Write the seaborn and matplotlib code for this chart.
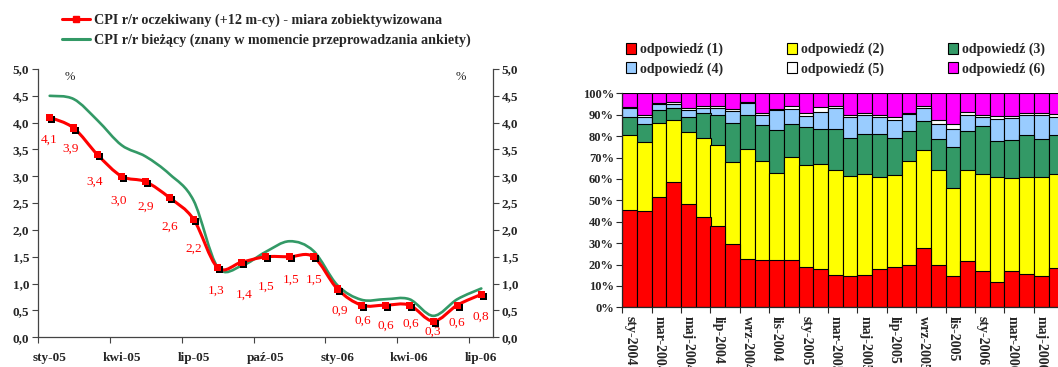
import numpy as np
import pandas as pd
import matplotlib
matplotlib.use("Agg")
import matplotlib.pyplot as plt
import seaborn as sns
from matplotlib.path import Path
from matplotlib.patches import PathPatch, Patch
from matplotlib.lines import Line2D
import matplotlib.patheffects as pe
from matplotlib.ticker import FixedLocator, NullFormatter, FuncFormatter

# ---------------- data: left chart ----------------
months_left = ["sty-05", "lut-05", "mar-05", "kwi-05", "maj-05", "cze-05", "lip-05",
               "sie-05", "wrz-05", "paź-05", "lis-05", "gru-05", "sty-06", "lut-06",
               "mar-06", "kwi-06", "maj-06", "cze-06", "lip-06"]
cpi_expected = [4.1, 3.9, 3.4, 3.0, 2.9, 2.6, 2.2, 1.3, 1.4, 1.5, 1.5, 1.5,
                0.9, 0.6, 0.6, 0.6, 0.3, 0.6, 0.8]
cpi_current = [4.50, 4.44, 4.04, 3.58, 3.37, 3.04, 2.55, 1.31, 1.33, 1.59, 1.79, 1.61,
               0.97, 0.70, 0.71, 0.71, 0.40, 0.71, 0.91]
left_tick_labels = ["sty-05", "kwi-05", "lip-05", "paź-05", "sty-06", "kwi-06", "lip-06"]
legend_left = ["CPI r/r oczekiwany (+12 m-cy) - miara zobiektywizowana",
               "CPI r/r bieżący (znany w momencie przeprowadzania ankiety)"]

# ---------------- data: right chart ----------------
months_right = ["sty-2004", "lut-2004", "mar-2004", "kwi-2004", "maj-2004", "cze-2004",
                "lip-2004", "sie-2004", "wrz-2004", "paź-2004", "lis-2004", "gru-2004",
                "sty-2005", "lut-2005", "mar-2005", "kwi-2005", "maj-2005", "cze-2005",
                "lip-2005", "sie-2005", "wrz-2005", "paź-2005", "lis-2005", "gru-2005",
                "sty-2006", "lut-2006", "mar-2006", "kwi-2006", "maj-2006", "cze-2006"]
resp1 = [45.3, 44.9, 51.4, 58.4, 48.4, 42.1, 37.9, 29.4, 22.6, 22.1, 22.1, 22.1, 18.8, 17.8, 15.0,
         14.6, 15.0, 17.8, 18.7, 19.6, 27.6, 19.6, 14.6, 21.5, 16.8, 11.7, 16.8, 15.4, 14.6, 18.2]
resp2 = [35.4, 32.4, 34.9, 29.1, 33.4, 37.0, 37.8, 38.4, 51.4, 46.4, 40.7, 48.0, 47.6, 49.2, 49.0,
         46.8, 47.5, 42.9, 43.0, 48.6, 45.8, 44.7, 41.3, 42.5, 45.7, 49.0, 43.6, 45.3, 46.1, 43.9]
resp3 = [8.2, 8.2, 5.8, 5.8, 7.0, 11.9, 14.2, 18.3, 15.7, 16.5, 20.1, 15.6, 17.7, 16.3, 19.3,
         17.6, 18.3, 20.1, 17.6, 14.4, 13.7, 14.4, 19.0, 18.6, 22.1, 16.9, 17.6, 19.7, 18.0, 18.3]
resp4 = [4.1, 3.6, 2.8, 1.7, 3.3, 2.3, 3.1, 5.6, 5.6, 4.7, 9.3, 6.8, 5.5, 8.1, 9.7,
         10.1, 9.1, 8.3, 8.2, 7.6, 6.2, 7.0, 8.3, 7.1, 4.5, 10.6, 10.6, 9.5, 11.2, 8.7]
resp5 = [0.6, 0.8, 0.7, 1.1, 1.2, 0.6, 0.9, 1.1, 0.5, 1.3, 0.6, 1.7, 1.2, 2.2, 0.9,
         0.9, 0.9, 0.8, 1.3, 0.6, 0.6, 2.0, 2.3, 1.7, 0.8, 1.1, 1.0, 0.9, 1.0, 1.1]
resp6 = [6.4, 10.1, 4.4, 3.9, 6.7, 6.1, 6.1, 7.2, 4.2, 9.0, 7.2, 5.8, 9.2, 6.4, 6.1,
         10.0, 9.2, 10.1, 11.2, 9.2, 6.1, 12.3, 14.5, 8.6, 10.1, 10.7, 10.4, 9.2, 9.1, 9.8]
resp_names = ["odpowiedź (1)", "odpowiedź (2)", "odpowiedź (3)",
              "odpowiedź (4)", "odpowiedź (5)", "odpowiedź (6)"]

# ---------------- style ----------------
RED = "#FF0000"
GREEN = "#339966"
resp_colors = ["#FF0000", "#FFFF00", "#339966", "#99CCFF", "#FFFFFF", "#FF00FF"]
# label offsets (pixels) for the data labels of the red series
label_dx = [-1, -3, -3, -3, 0, 0, 0, -1, 3, 1, 2, 1, 2, 1, 0, 1, -1, -1, 0]
label_dy = [22, 21, 27, 24, 25, 29, 29, 23, 33, 30, 23, 23, 22, 16, 21, 19, 11, 18, 22]

sns.set_style("ticks")
plt.rcParams["font.family"] = ["Liberation Serif", "DejaVu Serif"]
plt.rcParams["axes.linewidth"] = 0.9

W, H = 1058, 367
fig = plt.figure(figsize=(W / 100, H / 100), dpi=100)


def fx(px):
    return px / W


def fy(py):
    return 1 - py / H


# ================= left chart =================
axl = fig.add_axes([fx(37.7), fy(337.3), fx(493.3 - 37.7), (337.3 - 69) / H])
n = len(months_left)
xs = np.arange(n)


def smooth_path(x, y):
    P = np.column_stack([x, y]).astype(float)
    verts = [tuple(P[0])]
    codes = [Path.MOVETO]
    for i in range(len(P) - 1):
        p0 = P[i - 1] if i > 0 else P[i]
        p1 = P[i]
        p2 = P[i + 1]
        p3 = P[i + 2] if i + 2 < len(P) else P[i + 1]
        c1 = p1 + (p2 - p0) / 6.0
        c2 = p2 - (p3 - p1) / 6.0
        verts += [tuple(c1), tuple(c2), tuple(p2)]
        codes += [Path.CURVE4] * 3
    return Path(verts, codes)


axl.add_patch(PathPatch(smooth_path(xs, cpi_current), fill=False, edgecolor=GREEN,
                        lw=1.9, capstyle="round", joinstyle="round", zorder=2))
axl.add_patch(PathPatch(smooth_path(xs, cpi_expected), fill=False, edgecolor=RED,
                        lw=2.2, capstyle="round", joinstyle="round", zorder=3))
df_left = pd.DataFrame({"x": xs, "y": cpi_expected})
sns.scatterplot(data=df_left, x="x", y="y", marker="s", s=26, color=RED, edgecolor=RED,
                linewidth=0, ax=axl, zorder=4, legend=False,
                path_effects=[pe.SimplePatchShadow(offset=(1.5, -1.5), shadow_rgbFace="black", alpha=1.0),
                              pe.Normal()])

for i, v in enumerate(cpi_expected):
    axl.annotate(f"{v:.1f}".replace(".", ","), (xs[i], v), xytext=(label_dx[i], -label_dy[i]),
                 textcoords="offset pixels", ha="center", va="center", color=RED, fontsize=9.5)

axl.set_xlim(-0.5, n - 0.5)
axl.set_ylim(0, 5)
axl.set_xlabel("")
axl.set_ylabel("")
axl.xaxis.set_major_locator(FixedLocator(np.arange(-0.5, n - 0.5, 3)))
axl.xaxis.set_major_formatter(NullFormatter())
axl.xaxis.set_minor_locator(FixedLocator(np.arange(0, n, 3)))
axl.set_xticklabels(left_tick_labels, minor=True)
axl.tick_params(axis="x", which="major", length=4, direction="out", color="#444444")
axl.tick_params(axis="x", which="minor", length=0, pad=10.5, labelsize=9.5)
for t in axl.get_xticklabels(minor=True):
    t.set_fontweight("bold")
axl.set_yticks(np.arange(0, 5.01, 0.5))
axl.yaxis.set_major_formatter(FuncFormatter(lambda v, p: f"{v:.1f}".replace(".", ",")))
axl.tick_params(axis="y", left=True, right=True, labelleft=True, labelright=True,
                length=4, direction="out", labelsize=9.5, pad=2, color="#444444")
for t in axl.get_yticklabels():
    t.set_fontweight("bold")
for side in ["left", "bottom", "right"]:
    axl.spines[side].set_color("#444444")
axl.spines["top"].set_visible(False)
axl.spines["right"].set_visible(True)

fig.text(fx(70), fy(77), "%", ha="center", va="center", fontsize=9)
fig.text(fx(461), fy(77), "%", ha="center", va="center", fontsize=9)

hl = [Line2D([], [], color=RED, lw=2.2, marker="s", markersize=4.5),
      Line2D([], [], color=GREEN, lw=2.2)]
legl = fig.legend(hl, legend_left, loc="upper left", bbox_to_anchor=(fx(62), fy(14)),
                  frameon=False, prop={"weight": "bold", "size": 10.2}, handlelength=2.0,
                  handletextpad=0.25, labelspacing=0.42, borderpad=0, borderaxespad=0)

# ================= right chart =================
bw = 14.7
nb = len(months_right)
axr = fig.add_axes([fx(622.3), fy(307.3), fx(nb * bw), (307.3 - 93.3) / H])
series = [resp1, resp2, resp3, resp4, resp5, resp6]
cum = np.cumsum(np.array(series, dtype=float), axis=0)
for k in range(len(series) - 1, -1, -1):
    dfk = pd.DataFrame({"m": months_right, "v": cum[k]})
    sns.barplot(data=dfk, x="m", y="v", color=resp_colors[k], saturation=1, width=1.0,
                edgecolor="black", linewidth=0.8, errorbar=None, ax=axr, order=months_right)

axr.set_xlim(-0.5, nb - 0.5)
axr.set_ylim(0, 100)
axr.set_xlabel("")
axr.set_ylabel("")
axr.set_yticks(np.arange(0, 101, 10))
axr.yaxis.set_major_formatter(FuncFormatter(lambda v, p: f"{int(round(v))}%"))
axr.tick_params(axis="y", length=4, direction="out", labelsize=9, pad=2)
for t in axr.get_yticklabels():
    t.set_fontweight("bold")
axr.xaxis.set_major_locator(FixedLocator(np.arange(-0.5, nb - 0.5, 2)))
axr.xaxis.set_major_formatter(NullFormatter())
axr.xaxis.set_minor_locator(FixedLocator(np.arange(0, nb, 2)))
axr.set_xticklabels(months_right[::2], minor=True, rotation=270, va="top", ha="center")
axr.tick_params(axis="x", which="major", length=4, direction="out")
axr.tick_params(axis="x", which="minor", length=0, pad=6, labelsize=10)
for t in axr.get_xticklabels(minor=True):
    t.set_fontweight("bold")
axr.spines["top"].set_visible(False)
axr.spines["right"].set_visible(False)

hr = [Patch(facecolor=c, edgecolor="black", linewidth=0.8) for c in resp_colors]
order = [0, 3, 1, 4, 2, 5]
fig.legend([hr[i] for i in order], [resp_names[i] for i in order], ncol=3,
           loc="upper left", bbox_to_anchor=(fx(626), fy(43)), frameon=False,
           prop={"weight": "bold", "size": 10}, handlelength=0.75, handleheight=0.75,
           handletextpad=0.25, columnspacing=4.6, labelspacing=0.4,
           borderpad=0, borderaxespad=0)

fig.savefig("out.png", dpi=100)
